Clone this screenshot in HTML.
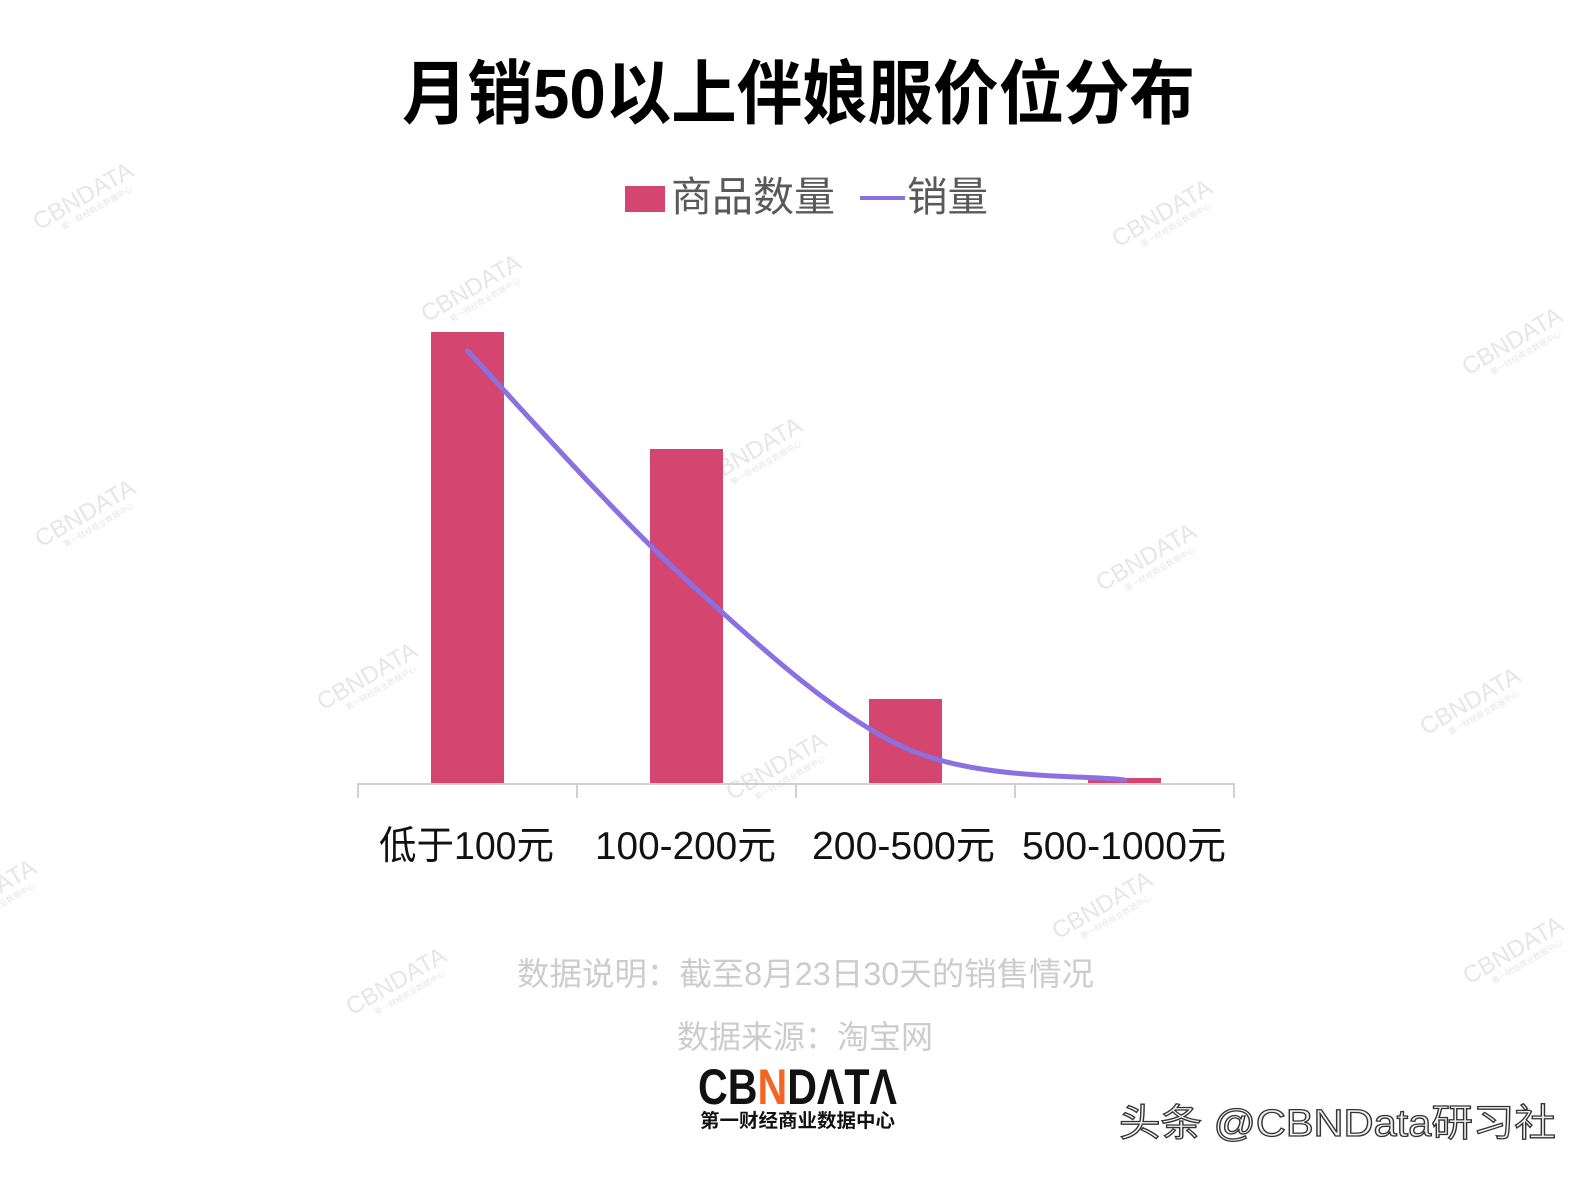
<!DOCTYPE html>
<html>
<head>
<meta charset="utf-8">
<style>
html,body{margin:0;padding:0;background:#fff;}
svg{display:block;}
</style>
</head>
<body>
<svg width="1595" height="1181" viewBox="0 0 1595 1181" xmlns="http://www.w3.org/2000/svg">
<rect width="1595" height="1181" fill="#ffffff"/>

<!-- watermarks -->
<g font-family="'Liberation Sans', 'Noto Sans CJK SC', sans-serif" fill="#e6e6e6">
  <g transform="translate(87,203) rotate(-30)"><text x="0" y="0" font-size="24" text-anchor="middle">CBNDATA</text><text x="6" y="12" font-size="8" text-anchor="middle">第一财经商业数据中心</text></g>
  <g transform="translate(475,295) rotate(-30)"><text x="0" y="0" font-size="24" text-anchor="middle">CBNDATA</text><text x="6" y="12" font-size="8" text-anchor="middle">第一财经商业数据中心</text></g>
  <g transform="translate(1166,220) rotate(-30)"><text x="0" y="0" font-size="24" text-anchor="middle">CBNDATA</text><text x="6" y="12" font-size="8" text-anchor="middle">第一财经商业数据中心</text></g>
  <g transform="translate(1516,348) rotate(-30)"><text x="0" y="0" font-size="24" text-anchor="middle">CBNDATA</text><text x="6" y="12" font-size="8" text-anchor="middle">第一财经商业数据中心</text></g>
  <g transform="translate(89,520) rotate(-30)"><text x="0" y="0" font-size="24" text-anchor="middle">CBNDATA</text><text x="6" y="12" font-size="8" text-anchor="middle">第一财经商业数据中心</text></g>
  <g transform="translate(756,458) rotate(-30)"><text x="0" y="0" font-size="24" text-anchor="middle">CBNDATA</text><text x="6" y="12" font-size="8" text-anchor="middle">第一财经商业数据中心</text></g>
  <g transform="translate(1150,564) rotate(-30)"><text x="0" y="0" font-size="24" text-anchor="middle">CBNDATA</text><text x="6" y="12" font-size="8" text-anchor="middle">第一财经商业数据中心</text></g>
  <g transform="translate(371,683) rotate(-30)"><text x="0" y="0" font-size="24" text-anchor="middle">CBNDATA</text><text x="6" y="12" font-size="8" text-anchor="middle">第一财经商业数据中心</text></g>
  <g transform="translate(780,773) rotate(-30)"><text x="0" y="0" font-size="24" text-anchor="middle">CBNDATA</text><text x="6" y="12" font-size="8" text-anchor="middle">第一财经商业数据中心</text></g>
  <g transform="translate(1474,708) rotate(-30)"><text x="0" y="0" font-size="24" text-anchor="middle">CBNDATA</text><text x="6" y="12" font-size="8" text-anchor="middle">第一财经商业数据中心</text></g>
  <g transform="translate(-10,900) rotate(-30)"><text x="0" y="0" font-size="24" text-anchor="middle">CBNDATA</text><text x="6" y="12" font-size="8" text-anchor="middle">第一财经商业数据中心</text></g>
  <g transform="translate(1106,912) rotate(-30)"><text x="0" y="0" font-size="24" text-anchor="middle">CBNDATA</text><text x="6" y="12" font-size="8" text-anchor="middle">第一财经商业数据中心</text></g>
  <g transform="translate(400,988) rotate(-30)"><text x="0" y="0" font-size="24" text-anchor="middle">CBNDATA</text><text x="6" y="12" font-size="8" text-anchor="middle">第一财经商业数据中心</text></g>
  <g transform="translate(1517,957) rotate(-30)"><text x="0" y="0" font-size="24" text-anchor="middle">CBNDATA</text><text x="6" y="12" font-size="8" text-anchor="middle">第一财经商业数据中心</text></g>
</g>

<!-- title -->
<text x="402" y="118" font-family="'Liberation Sans', 'Noto Sans CJK SC', sans-serif" font-weight="bold" font-size="70" fill="#000" textLength="793" lengthAdjust="spacingAndGlyphs">月销50以上伴娘服价位分布</text>

<!-- legend -->
<rect x="625" y="186" width="40" height="26" fill="#d4466f"/>
<text x="671" y="211" font-family="'Liberation Sans', 'Noto Sans CJK SC', sans-serif" font-size="41" fill="#595959" textLength="164" lengthAdjust="spacingAndGlyphs">商品数量</text>
<line x1="860" y1="198" x2="905" y2="198" stroke="#8a70e0" stroke-width="4"/>
<text x="907" y="211" font-family="'Liberation Sans', 'Noto Sans CJK SC', sans-serif" font-size="41" fill="#595959" textLength="81" lengthAdjust="spacingAndGlyphs">销量</text>

<!-- bars -->
<g fill="#d4466f">
  <rect x="431" y="332" width="73" height="452"/>
  <rect x="650" y="449" width="73" height="335"/>
  <rect x="869" y="699" width="73" height="85"/>
  <rect x="1088" y="778" width="73" height="6"/>
</g>

<!-- axis -->
<g stroke="#d0d0d0" stroke-width="2">
  <line x1="357" y1="784" x2="1235" y2="784"/>
  <line x1="358" y1="784" x2="358" y2="798"/>
  <line x1="577" y1="784" x2="577" y2="798"/>
  <line x1="796" y1="784" x2="796" y2="798"/>
  <line x1="1015" y1="784" x2="1015" y2="798"/>
  <line x1="1234" y1="784" x2="1234" y2="798"/>
</g>

<!-- sales line -->
<path d="M467.5,351 C504,389 613.5,513.8 686.5,580 C759.5,646.2 832.5,714.7 905.5,748 C978.5,781 1088,774.7 1124.5,780" fill="none" stroke="#8a70e0" stroke-width="5" stroke-linecap="round"/>

<!-- x labels -->
<g font-family="'Liberation Sans', 'Noto Sans CJK SC', sans-serif" font-size="39" fill="#111">
  <text x="379" y="859" textLength="175" lengthAdjust="spacingAndGlyphs">低于100元</text>
  <text x="595" y="859" textLength="181" lengthAdjust="spacingAndGlyphs">100-200元</text>
  <text x="812" y="859" textLength="183" lengthAdjust="spacingAndGlyphs">200-500元</text>
  <text x="1022" y="859" textLength="204" lengthAdjust="spacingAndGlyphs">500-1000元</text>
</g>

<!-- footnotes -->
<g font-family="'Liberation Sans', 'Noto Sans CJK SC', sans-serif" font-size="32" fill="#cccccc">
  <text x="517" y="985" textLength="577" lengthAdjust="spacingAndGlyphs">数据说明：截至8月23日30天的销售情况</text>
  <text x="677" y="1048" textLength="256" lengthAdjust="spacingAndGlyphs">数据来源：淘宝网</text>
</g>

<!-- logo -->
<text x="698" y="1104" font-family="'Liberation Sans', sans-serif" font-weight="bold" font-size="50" fill="#111" textLength="199" lengthAdjust="spacingAndGlyphs">CB<tspan fill="#f26522">N</tspan>DΛTΛ</text>
<text x="700" y="1127" font-family="'Liberation Sans', 'Noto Sans CJK SC', sans-serif" font-weight="bold" font-size="19" fill="#111" textLength="195" lengthAdjust="spacingAndGlyphs">第一财经商业数据中心</text>

<!-- corner watermark -->
<text x="1119" y="1136" font-family="'Liberation Sans', 'Noto Sans CJK SC', sans-serif" font-size="38" fill="#f2f2f2" stroke="#333" stroke-width="1.3" textLength="437" lengthAdjust="spacingAndGlyphs">头条 @CBNData研习社</text>
</svg>
</body>
</html>
